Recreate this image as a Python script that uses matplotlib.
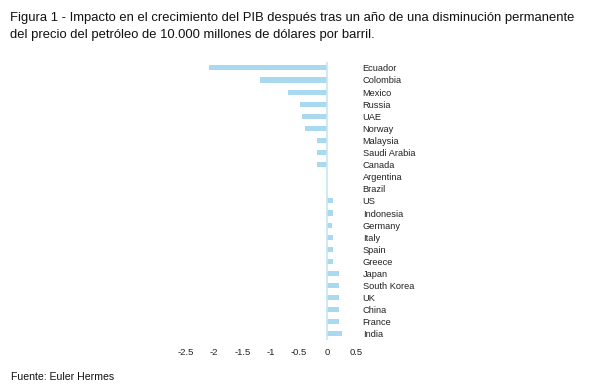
import numpy as np
import matplotlib.pyplot as plt

plt.rcParams['font.family'] = ['Liberation Sans', 'DejaVu Sans']

countries = ["Ecuador", "Colombia", "Mexico", "Russia", "UAE", "Norway", "Malaysia",
             "Saudi Arabia", "Canada", "Argentina", "Brazil", "US", "Indonesia",
             "Germany", "Italy", "Spain", "Greece", "Japan", "South Korea", "UK",
             "China", "France", "India"]
impact = [-2.09, -1.19, -0.69, -0.49, -0.45, -0.39, -0.19, -0.19, -0.19, 0.0, 0.0,
          0.1, 0.1, 0.08, 0.1, 0.1, 0.1, 0.2, 0.2, 0.2, 0.2, 0.2, 0.25]
xticks = [-2.5, -2, -1.5, -1, -0.5, 0, 0.5]
xtick_labels = ["-2.5", "-2", "-1.5", "-1", "-0.5", "0", "0.5"]

bar_color = "#a9d9ee"

fig = plt.figure(figsize=(6, 3.89), dpi=100)
ax = fig.add_axes([0.31, 0.126, 0.283, 0.715])

y = np.arange(len(countries))
ax.barh(y, impact, height=0.42, color=bar_color)
ax.axvline(0, color="#c5e6f3", lw=1.2)

ax.set_xlim(-2.5, 0.5)
ax.set_ylim(len(countries) - 0.5, -0.5)
ax.set_xticks(xticks)
ax.set_xticklabels(xtick_labels, fontsize=6.8, color="#222222")
ax.yaxis.tick_right()
ax.set_yticks(y)
ax.set_yticklabels(countries, fontsize=6.7, color="#222222")
ax.tick_params(axis="both", length=0)
ax.tick_params(axis="y", pad=5)
ax.tick_params(axis="x", pad=6)
for s in ax.spines.values():
    s.set_visible(False)

fig.text(0.017, 0.968, "Figura 1 - Impacto en el crecimiento del PIB después tras un año de una disminución permanente\n"
         "del precio del petróleo de 10.000 millones de dólares por barril.",
         fontsize=9.35, va="top", ha="left", linespacing=1.5, color="#111111")
fig.text(0.018, 0.018, "Fuente: Euler Hermes", fontsize=7.6, va="bottom", ha="left", color="#111111")

fig.savefig("out.png", dpi=100)
